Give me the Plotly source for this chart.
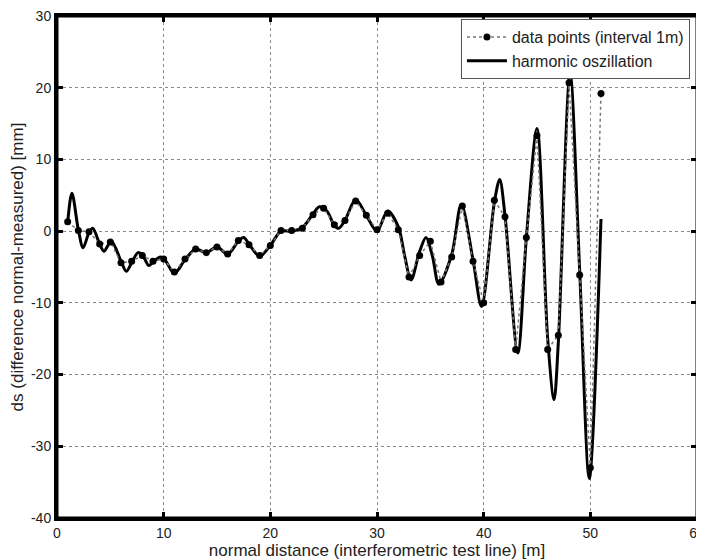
import plotly.graph_objects as go

# measured data points (interval 1 m)
dist_m = list(range(1, 52))
ds_mm = [1.3, 0.1, -0.1, -1.8, -1.5, -4.4, -4.2, -3.4, -4.2, -3.9,
         -5.7, -3.9, -2.5, -3.0, -2.2, -3.2, -1.3, -1.9, -3.4, -2.0,
         0.1, 0.1, 0.4, 2.3, 3.2, 0.9, 1.5, 4.2, 2.2, 0.2,
         2.5, 0.2, -6.4, -3.4, -1.4, -7.1, -3.6, 3.5, -4.2, -10.0,
         4.3, 2.0, -16.5, -0.9, 13.3, -16.5, -14.5, 20.7, -6.1, -33.0,
         19.2]

harm_x = [1.0, 1.4, 2.0, 2.45, 3.0, 3.35, 4.0, 4.4, 5.1, 6.0, 6.5, 7.0, 7.6, 8.0,
          8.6, 9.0, 9.7, 10.2, 11.0, 12.0, 13.0, 14.0, 15.0, 16.0, 17.0, 17.5,
          18.0, 19.0, 20.0, 21.0, 22.0, 23.0, 24.0, 24.6, 25.3, 26.0, 26.4, 27.0,
          28.0, 29.0, 30.0, 31.0, 32.0, 32.6, 33.2, 34.0, 34.6, 35.2, 35.8, 37.0,
          37.9, 39.0, 39.8, 41.0, 41.5, 42.0, 43.2, 44.0, 45.0, 46.0, 46.6, 47.0,
          48.1, 49.0, 49.9, 51.0]
harm_y = [1.2, 5.3, 0.2, -2.3, -0.2, 0.4, -1.8, -2.8, -1.4, -4.2, -5.6, -4.4, -3.0, -3.3,
          -4.8, -4.3, -3.6, -4.2, -5.9, -4.0, -2.5, -3.0, -2.2, -3.2, -1.4, -0.9,
          -1.8, -3.5, -2.0, 0.0, 0.0, 0.5, 2.4, 3.4, 2.8, 0.8, 0.4, 1.5,
          4.4, 2.2, 0.0, 2.8, 0.6, -3.5, -6.8, -2.8, -0.9, -3.5, -7.4, -3.3,
          3.7, -4.0, -10.5, 4.0, 7.2, 2.2, -17.0, -1.0, 14.3, -15.0, -23.5, -15.5,
          22.0, -5.5, -34.5, 1.7]

x_ticks = [0, 10, 20, 30, 40, 50, 60]
x_labels = ["0", "10", "20", "30", "40", "50", "60"]
y_ticks = [-40, -30, -20, -10, 0, 10, 20, 30]
y_labels = ["-40", "-30", "-20", "-10", "0", "10", "20", "30"]

FAM = "Liberation Sans, Arial, sans-serif"
tick_font = dict(family=FAM, size=14, color="#222222")
title_font = dict(family=FAM, size=17, color="#222222")

fig = go.Figure()
fig.add_trace(go.Scatter(
    x=harm_x, y=harm_y, mode="lines", name="harmonic oszillation",
    line=dict(color="black", width=3, shape="spline", smoothing=0.9),
    legendrank=2))
fig.add_trace(go.Scatter(
    x=dist_m, y=ds_mm, mode="lines+markers", name="data points (interval 1m)",
    line=dict(color="#777777", width=1.5, dash="dot"),
    marker=dict(color="black", size=7, symbol="circle"),
    legendrank=1))

axis_common = dict(
    showline=True, linecolor="black", linewidth=3, mirror="ticks",
    ticks="inside", ticklen=6, tickwidth=3, tickcolor="black",
    showgrid=True, gridcolor="#8a8a8a", gridwidth=1, griddash="dot",
    zeroline=False, tickfont=tick_font, automargin=False,
    ticklabeloverflow="allow")

fig.update_xaxes(range=[0, 60], tickvals=x_ticks, ticktext=x_labels, **axis_common,
                 title=dict(text="normal distance (interferometric test line) [m]",
                            font=title_font, standoff=0))
fig.update_yaxes(range=[-40, 30], tickvals=y_ticks, ticktext=y_labels, **axis_common,
                 title=dict(text="ds (difference normal-measured) [mm]",
                            font=title_font, standoff=4))

fig.add_shape(type="rect", xref="paper", yref="paper", x0=0, x1=1, y0=0, y1=1,
              line=dict(color="black", width=3), fillcolor="rgba(0,0,0,0)", layer="above")

# the page body adds an 8px offset, so the figure is sized to end at the window edge
fig.update_layout(
    width=696, height=552,
    margin=dict(l=49, r=7, t=8, b=42),
    paper_bgcolor="white", plot_bgcolor="white",
    font=tick_font,
    showlegend=True,
    legend=dict(x=0.989, y=0.994, xanchor="right", yanchor="top",
                bgcolor="white", bordercolor="#555555", borderwidth=1,
                font=dict(family=FAM, size=16, color="#222222"),
                tracegroupgap=0, itemwidth=40),
)

fig.write_html("out.html")
